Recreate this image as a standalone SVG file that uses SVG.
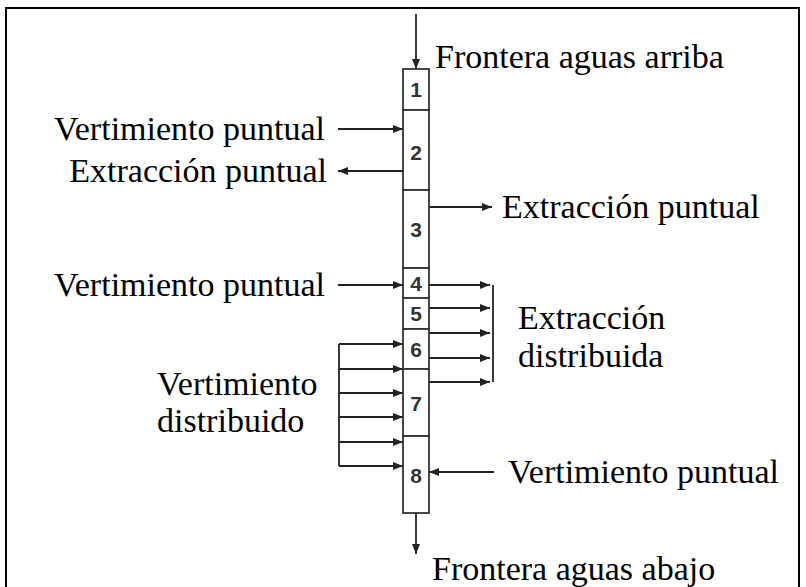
<svg xmlns="http://www.w3.org/2000/svg" width="806" height="587" viewBox="0 0 806 587">
<style>
.lbl{font-family:"Liberation Serif","Times New Roman",serif;font-size:34px;fill:#000}
.num{font-family:"Liberation Sans",Arial,sans-serif;font-size:21px;font-weight:bold;fill:#333;text-anchor:middle}
.box{fill:#fff;stroke:#333;stroke-width:1.8}
.ln{stroke:#222;stroke-width:1.8;fill:none}
.ar{stroke:#222;stroke-width:1.8;fill:none;marker-end:url(#ah)}
</style>
<defs>
<marker id="ah" markerUnits="userSpaceOnUse" markerWidth="11" markerHeight="8" refX="10" refY="4" orient="auto">
<path d="M0,0 L10,4 L0,8 z" fill="#222"/>
</marker>
</defs>
<rect x="6" y="8" width="793" height="600" fill="#fff" stroke="#000" stroke-width="2"/>
<g id="connectors">
<line class="ar" x1="416" y1="14" x2="416" y2="69"/>
<line class="ar" x1="416" y1="513" x2="416" y2="554"/>
<line class="ar" x1="338" y1="129" x2="403" y2="129"/>
<line class="ar" x1="403" y1="171" x2="338" y2="171"/>
<line class="ar" x1="429" y1="207" x2="492" y2="207"/>
<line class="ar" x1="338" y1="285" x2="403" y2="285"/>
<line class="ar" x1="494" y1="472" x2="429" y2="472"/>
<line class="ar" x1="429" y1="285" x2="490" y2="285"/>
<line class="ar" x1="429" y1="308" x2="490" y2="308"/>
<line class="ar" x1="429" y1="333" x2="490" y2="333"/>
<line class="ar" x1="429" y1="358" x2="490" y2="358"/>
<line class="ar" x1="429" y1="382" x2="490" y2="382"/>
<line class="ln" x1="493" y1="285" x2="493" y2="382"/>
<line class="ln" x1="339" y1="344" x2="339" y2="466"/>
<line class="ar" x1="339" y1="344" x2="403" y2="344"/>
<line class="ar" x1="339" y1="369" x2="403" y2="369"/>
<line class="ar" x1="339" y1="393" x2="403" y2="393"/>
<line class="ar" x1="339" y1="417" x2="403" y2="417"/>
<line class="ar" x1="339" y1="442" x2="403" y2="442"/>
<line class="ar" x1="339" y1="466" x2="403" y2="466"/>
</g>
<g id="seg1"><rect class="box" x="403" y="69" width="26" height="41"/><text class="num" x="416" y="97">1</text></g>
<g id="seg2"><rect class="box" x="403" y="110" width="26" height="80"/><text class="num" x="416" y="160">2</text></g>
<g id="seg3"><rect class="box" x="403" y="190" width="26" height="78"/><text class="num" x="416" y="237">3</text></g>
<g id="seg4"><rect class="box" x="403" y="268" width="26" height="30"/><text class="num" x="416" y="291">4</text></g>
<g id="seg5"><rect class="box" x="403" y="298" width="26" height="31"/><text class="num" x="416" y="321">5</text></g>
<g id="seg6"><rect class="box" x="403" y="329" width="26" height="40"/><text class="num" x="416" y="357">6</text></g>
<g id="seg7"><rect class="box" x="403" y="369" width="26" height="67"/><text class="num" x="416" y="411">7</text></g>
<g id="seg8"><rect class="box" x="403" y="436" width="26" height="77"/><text class="num" x="416" y="483">8</text></g>
<g id="labels">
<text class="lbl" x="435" y="68">Frontera aguas arriba</text>
<text class="lbl" x="325" y="140" text-anchor="end">Vertimiento puntual</text>
<text class="lbl" x="327" y="182" text-anchor="end">Extracción puntual</text>
<text class="lbl" x="502" y="218">Extracción puntual</text>
<text class="lbl" x="325" y="296" text-anchor="end">Vertimiento puntual</text>
<text class="lbl" x="518" y="329">Extracción</text>
<text class="lbl" x="518" y="367">distribuida</text>
<text class="lbl" x="157" y="395">Vertimiento</text>
<text class="lbl" x="157" y="432">distribuido</text>
<text class="lbl" x="508" y="483">Vertimiento puntual</text>
<text class="lbl" x="432" y="580">Frontera aguas abajo</text>
</g>
</svg>
